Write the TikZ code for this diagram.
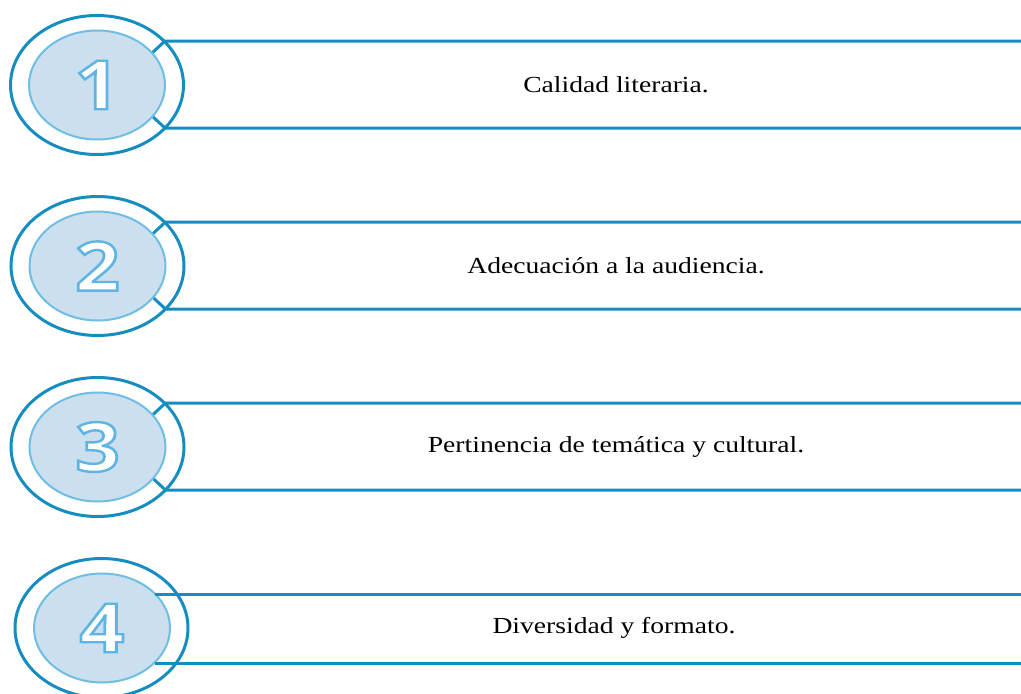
\documentclass[tikz,border=0pt]{standalone}
\usepackage{fontspec}
\setmainfont{Liberation Serif}
\newfontfamily\digitfont{Open Sans}
\usetikzlibrary{calc,shapes.geometric}
\definecolor{dblue}{RGB}{22,141,192}
\definecolor{lfill}{RGB}{204,223,238}
\definecolor{lstroke}{RGB}{110,190,228}
\newcommand{\outl}[1]{{\color{white}\special{pdf:literal direct 2 Tr 2.4 w 0.37 0.71 0.89 RG}#1\special{pdf:literal direct 0 Tr 0.4 w 0 0 0 RG}}}
\begin{document}
\begin{tikzpicture}[x=1pt,y=-1pt,
  outerring/.style={draw=dblue, line width=3pt, ellipse, minimum width=173pt, minimum height=139pt, inner sep=0pt, outer sep=0pt},
  innerdisc/.style={draw=lstroke, line width=2pt, fill=lfill, ellipse, minimum width=136pt, minimum height=109pt, inner sep=0pt, outer sep=0pt},
  bar/.style={draw=dblue, line width=3pt},
  digitlbl/.style={inner sep=0pt, font=\digitfont\bfseries\fontsize{68}{68}\selectfont},
  itemtext/.style={inner sep=0pt, font=\fontsize{23}{27}\selectfont}]
\useasboundingbox (0,0) rectangle (1021,694);
\clip (0,0) rectangle (1021,694);
% rows 1-3
\foreach \n/\cx/\cy/\txt in {1/97/85/{Calidad literaria.},2/97.5/266/{Adecuación a la audiencia.},3/97.5/447/{Pertinencia de temática y cultural.}}{
  \coordinate (c\n) at (\cx,\cy);
  \coordinate (ta\n) at ($(c\n)+(55,-32)$);
  \coordinate (tb\n) at ($(c\n)+(68,-44)$);
  \coordinate (tc\n) at (1021,{\cy-44});
  \coordinate (ba\n) at ($(c\n)+(55,31)$);
  \coordinate (bb\n) at ($(c\n)+(68,43)$);
  \coordinate (bc\n) at (1021,{\cy+43});
  \draw[bar] (ta\n) -- (tb\n) -- (tc\n);
  \draw[bar] (ba\n) -- (bb\n) -- (bc\n);
  \node[outerring] (co\n) at (c\n) {};
  \node[innerdisc] (ci\n) at (c\n) {};
  \node[digitlbl] (d\n) at (c\n) {\scalebox{1.15}[1]{\outl{\n}}};
  \node[itemtext] (t\n) at (616,\cy) {\scalebox{1.2}[1]{\txt}};
}
% row 4
\coordinate (c4) at (102,628);
\coordinate (ta4) at ($(c4)+(53,-34)$);
\coordinate (tc4) at (1021,594);
\coordinate (ba4) at ($(c4)+(53,35)$);
\coordinate (bc4) at (1021,663);
\node[outerring] (co4) at (101.5,628) {};
\node[innerdisc] (ci4) at (c4) {};
\draw[bar] (ta4) -- (tc4);
\draw[bar] (ba4) -- (bc4);
\node[digitlbl] (d4) at (c4) {\scalebox{1.15}[1]{\outl{4}}};
\node[itemtext] (t4) at (614,628) {\scalebox{1.2}[1]{Diversidad y formato.}};
\end{tikzpicture}
\end{document}
